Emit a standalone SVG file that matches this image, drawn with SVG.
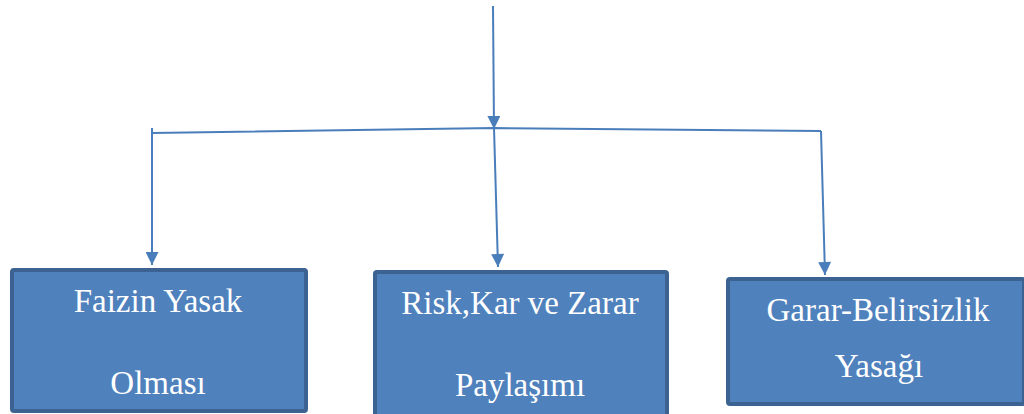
<svg xmlns="http://www.w3.org/2000/svg" width="1024" height="414" viewBox="0 0 1024 414">
<style>
.box{fill:#4f81bd;stroke:#3b6290;stroke-width:4}
.lbl{font-family:"Liberation Serif","Times New Roman",serif;font-size:33px;fill:#ffffff;text-anchor:middle}
.con{stroke:#4a7ebb;stroke-width:2;fill:none}
</style>
<defs>
<marker id="ah" viewBox="0 0 10 10" refX="10" refY="5" markerWidth="7" markerHeight="6.5" orient="auto" markerUnits="strokeWidth">
<path d="M0,0 L10,5 L0,10 z" fill="#4a7ebb"/>
</marker>
</defs>
<rect width="1024" height="414" fill="#ffffff"/>
<g id="connectors">
<line class="con" x1="493" y1="6" x2="494" y2="129" marker-end="url(#ah)"/>
<polyline class="con" points="152,133 494,128 821,131"/>
<line class="con" x1="152" y1="133" x2="152" y2="265" marker-end="url(#ah)"/>
<line class="con" x1="494" y1="128" x2="498" y2="267" marker-end="url(#ah)"/>
<line class="con" x1="821" y1="131" x2="825" y2="275" marker-end="url(#ah)"/>
<line class="con" x1="152" y1="128" x2="152" y2="134"/>
</g>
<g id="node1">
<rect class="box" x="12" y="270" width="294" height="141" rx="2"/>
<text class="lbl" x="158" y="312">Faizin Yasak</text>
<text class="lbl" x="158" y="394">Olması</text>
</g>
<g id="node2">
<rect class="box" x="375" y="272" width="292" height="144" rx="2"/>
<text class="lbl" x="520" y="314">Risk,Kar ve Zarar</text>
<text class="lbl" x="520" y="396">Paylaşımı</text>
</g>
<g id="node3">
<rect class="box" x="728" y="279" width="296" height="125" rx="2"/>
<text class="lbl" x="878" y="321">Garar-Belirsizlik</text>
<text class="lbl" x="879" y="377">Yasağı</text>
</g>
</svg>
